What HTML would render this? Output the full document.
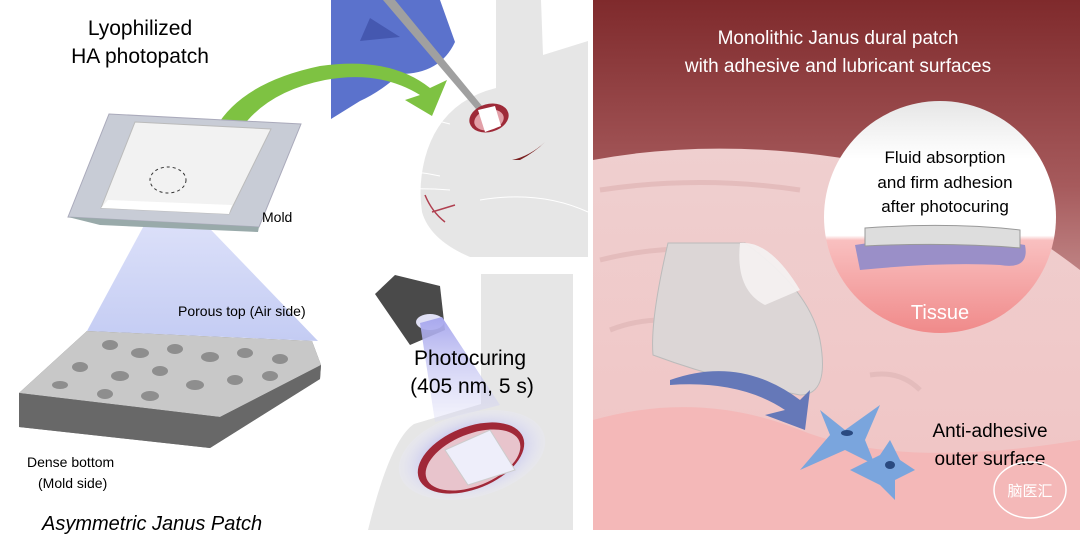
<!DOCTYPE html>
<html><head><meta charset="utf-8"><style>
html,body{margin:0;padding:0;background:#fff;}
svg{display:block;font-family:"Liberation Sans","Noto Sans CJK SC",sans-serif;}
</style></head><body>
<svg width="1080" height="541" viewBox="0 0 1080 541" xmlns="http://www.w3.org/2000/svg">
<defs>
<linearGradient id="bg" x1="0" y1="0" x2="0" y2="1">
<stop offset="0" stop-color="#7f2a2c"/><stop offset="0.35" stop-color="#a65a5c"/><stop offset="0.6" stop-color="#c99"/><stop offset="1" stop-color="#e9c6c6"/></linearGradient>
<linearGradient id="brain" x1="0" y1="0" x2="0" y2="1">
<stop offset="0" stop-color="#efcfcf"/><stop offset="1" stop-color="#f0c4c4"/></linearGradient>
<linearGradient id="circ" x1="0" y1="0" x2="0" y2="1">
<stop offset="0" stop-color="#e6e6e6"/><stop offset="0.25" stop-color="#fff"/><stop offset="0.58" stop-color="#fff"/><stop offset="0.6" stop-color="#f9c0c0"/><stop offset="1" stop-color="#f08a8a"/></linearGradient>
<linearGradient id="cone" x1="0" y1="0" x2="0" y2="1">
<stop offset="0" stop-color="#dfe3fa"/><stop offset="1" stop-color="#c4ccf3"/></linearGradient>
<linearGradient id="cone2" x1="0" y1="0" x2="0" y2="1">
<stop offset="0" stop-color="#a8a8ee"/><stop offset="1" stop-color="#d8d8f5" stop-opacity="0.3"/></linearGradient>
<radialGradient id="well" cx="0.5" cy="0.5" r="0.5"><stop offset="0.6" stop-color="#c8c8ee"/><stop offset="1" stop-color="#eaeaf8" stop-opacity="0.3"/></radialGradient>
</defs>
<rect width="1080" height="541" fill="#fff"/>
<!-- rabbit -->
<path d="M496 0 L541 0 L543 55 L588 41 L588 257 L470 257 Q430 240 422 212 Q418 185 425 158 Q440 102 496 88Z" fill="#e6e6e6"/>
<path d="M520 160 Q535 152 545 142 Q530 156 512 160Z" fill="#7a2020"/>
<path d="M425 195 Q432 212 445 222 M432 212 L455 205" stroke="#b04050" fill="none" stroke-width="1.5"/>
<g stroke="#fff" fill="none" stroke-width="1"><path d="M350 172 Q400 167 440 176"/><path d="M355 195 Q400 186 450 190"/><path d="M350 120 Q400 110 450 124"/><path d="M480 200 Q540 190 588 212"/></g>
<path d="M331 0 L440 0 L455 42 Q440 74 400 74 Q380 92 360 101 L331 119Z" fill="#5b72cc"/>
<path d="M370 18 L400 37 L360 41Z" fill="#4558b0"/>
<path d="M383 0 L395 0 L487 112 L482 116Z" fill="#a0a0a0"/>
<ellipse cx="489" cy="118" rx="20" ry="14" fill="#9e2a38" transform="rotate(-15 489 118)"/>
<ellipse cx="489" cy="120" rx="15" ry="10" fill="#e2a0a8" transform="rotate(-15 489 120)"/>
<path d="M478 110 L495 106 L501 126 L485 132Z" fill="#fff"/>
<!-- green arrow -->
<path d="M202 178 Q205 90 320 66 Q390 56 430 88 L447 80 L432 116 L405 100 L420 95 Q380 70 325 80 Q235 98 222 178Z" fill="#7ec242"/>
<!-- cone -->
<path d="M155 205 L190 208 L318 341 L87 331Z" fill="url(#cone)"/>
<!-- mold -->
<path d="M109 114 L301 124 L259 227 L68 217Z" fill="#c8ccd6" stroke="#aab"/>
<path d="M68 217 L259 227 L258 232 L100 225Z" fill="#9aa"/>
<path d="M135 122 L271 129 L229 214 L101 208Z" fill="#f2f2f2" stroke="#bbb"/>
<path d="M101 208 L229 214 L232 205 L108 200Z" fill="#fff"/>
<ellipse cx="168" cy="180" rx="18" ry="13" fill="none" stroke="#333" stroke-dasharray="3,3"/>
<text x="262" y="222" font-size="14">Mold</text>
<text x="140" y="35" font-size="21" text-anchor="middle">Lyophilized</text>
<text x="140" y="63" font-size="21" text-anchor="middle">HA photopatch</text>
<!-- porous block -->
<path d="M87 331 L312 341 L321 365 L320 379 L210 448 L19 427 L19 393Z" fill="#5e5e5e"/>
<path d="M87 331 L312 341 L321 365 L220 417 L19 393Z" fill="#c8c8c8"/>
<g fill="#8e8e8e">
<ellipse cx="110" cy="345" rx="8" ry="5"/><ellipse cx="140" cy="353" rx="9" ry="5"/><ellipse cx="175" cy="349" rx="8" ry="5"/><ellipse cx="210" cy="357" rx="9" ry="5"/><ellipse cx="245" cy="353" rx="8" ry="5"/><ellipse cx="280" cy="359" rx="8" ry="5"/>
<ellipse cx="80" cy="367" rx="8" ry="5"/><ellipse cx="120" cy="376" rx="9" ry="5"/><ellipse cx="160" cy="371" rx="8" ry="5"/><ellipse cx="195" cy="385" rx="9" ry="5"/><ellipse cx="235" cy="380" rx="8" ry="5"/><ellipse cx="270" cy="376" rx="8" ry="5"/>
<ellipse cx="60" cy="385" rx="8" ry="4"/><ellipse cx="105" cy="394" rx="8" ry="5"/><ellipse cx="150" cy="396" rx="9" ry="5"/></g>
<path d="M19 393 L220 417 L321 365 L320 379 L210 448 L19 427Z" fill="#6a6a6a" opacity="0.85"/>
<text x="178" y="316" font-size="14">Porous top (Air side)</text>
<text x="27" y="467" font-size="14">Dense bottom</text>
<text x="38" y="488" font-size="14">(Mold side)</text>
<text x="42" y="530" font-size="20" font-style="italic">Asymmetric Janus Patch</text>
<!-- photocuring -->
<path d="M481 274 L573 274 L573 530 L368 530 Q390 440 414 424 L481 404Z" fill="#e6e6e6"/>
<path d="M375 294 L395 275 L440 286 L445 330 L410 345 Z" fill="#4a4a4a"/>
<ellipse cx="430" cy="322" rx="14" ry="8" fill="#e0e0f5"/>
<path d="M420 323 L442 317 L500 405 L435 422Z" fill="url(#cone2)"/>
<ellipse cx="472" cy="455" rx="75" ry="42" fill="url(#well)" transform="rotate(-15 472 455)"/>
<ellipse cx="471" cy="458" rx="56" ry="31" fill="#a02838" transform="rotate(-22 471 458)"/>
<ellipse cx="473" cy="460" rx="50" ry="26" fill="#e8c4cc" transform="rotate(-22 473 460)"/>
<path d="M445 450 L490 430 L515 470 L468 485Z" fill="#eeeefa" stroke="#ccc"/>
<text x="470" y="365" font-size="21" text-anchor="middle">Photocuring</text>
<text x="472" y="393" font-size="21" text-anchor="middle">(405 nm, 5 s)</text>
<!-- right panel -->
<rect x="593" y="0" width="487" height="530" fill="url(#bg)"/>
<path d="M593 160 Q700 140 820 155 Q950 170 1080 270 L1080 530 L593 530Z" fill="url(#brain)"/>
<path d="M593 420 Q700 390 800 430 Q900 470 1080 440 L1080 530 L593 530Z" fill="#f4b8b8"/>
<path d="M600 190 Q700 175 800 190 M600 260 Q680 240 760 255 M610 330 Q660 310 720 330 M870 375 Q900 370 920 390" stroke="#e4bcbc" stroke-width="5" fill="none"/>
<path d="M722 275 L800 310 L775 305Z" fill="#c04050"/>
<path d="M668 243 L745 243 Q810 290 820 340 Q830 395 800 395 Q720 380 653 355 Q650 320 668 243Z" fill="#dcd6d6" stroke="#bbb"/>
<path d="M740 243 Q770 240 800 290 L765 305 Q735 290 740 243Z" fill="#f3f0f0" opacity="0.95"/>
<path d="M670 380 Q740 355 800 400 L810 390 L805 430 L765 415 L785 410 Q740 380 670 385Z" fill="#6578b8"/>
<g fill="#7aa5dd"><path d="M800 470 L830 435 L820 410 L845 430 L880 405 L865 440 L875 465 L845 450Z"/><path d="M850 470 L880 455 L890 440 L900 460 L915 470 L895 480 L895 500 L880 485Z"/></g>
<ellipse cx="847" cy="433" rx="6" ry="3" fill="#2a4a80"/><ellipse cx="890" cy="465" rx="5" ry="4" fill="#2a4a80"/>
<circle cx="940" cy="217" r="116" fill="url(#circ)"/>
<path d="M855 245 Q950 230 1025 245 Q1030 270 1000 265 Q940 262 860 270Z" fill="#9a8fc8"/>
<path d="M865 228 Q950 222 1020 230 L1020 248 Q950 242 865 246Z" fill="#ddd" stroke="#999"/>
<text x="945" y="163" font-size="17" text-anchor="middle">Fluid absorption</text>
<text x="945" y="188" font-size="17" text-anchor="middle">and firm adhesion</text>
<text x="945" y="212" font-size="17" text-anchor="middle">after photocuring</text>
<text x="940" y="319" font-size="20" fill="#fff" text-anchor="middle">Tissue</text>
<text x="838" y="44" font-size="19" fill="#fff" text-anchor="middle">Monolithic Janus dural patch</text>
<text x="838" y="72" font-size="19" fill="#fff" text-anchor="middle">with adhesive and lubricant surfaces</text>
<text x="990" y="437" font-size="19" text-anchor="middle">Anti-adhesive</text>
<text x="990" y="465" font-size="19" text-anchor="middle">outer surface</text>
<ellipse cx="1030" cy="490" rx="36" ry="28" fill="none" stroke="#fff" stroke-width="1.5"/>
<text x="1030" y="496" font-size="15" fill="#fff" text-anchor="middle">脑医汇</text>
</svg>
</body></html>
